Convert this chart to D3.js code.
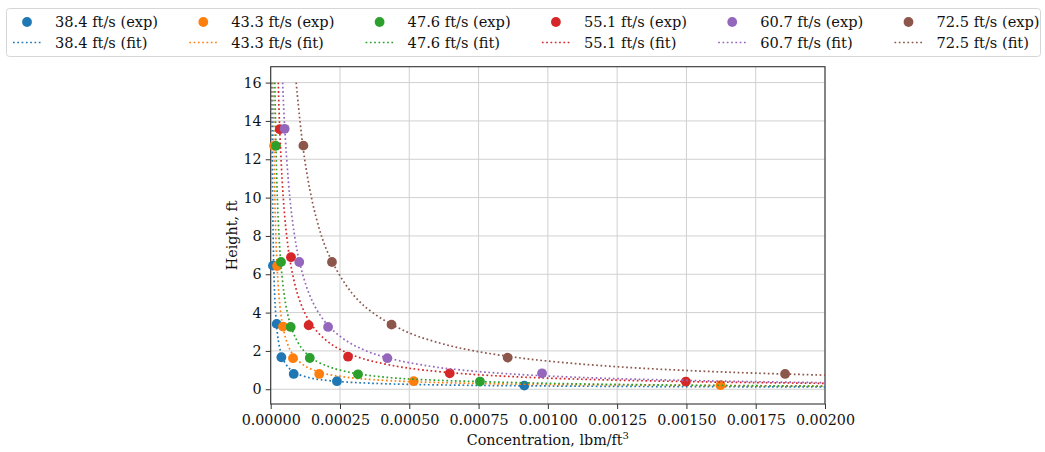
<!DOCTYPE html>
<html>
<head>
<meta charset="utf-8">
<script src="https://cdn.jsdelivr.net/npm/d3@7"></script>
<style>
  body { margin: 0; background: #fff; }
  text { font-family: "DejaVu Serif", serif; fill: #111; }
</style>
</head>
<body>
<svg id="canvas"></svg>
<script>
const series = ["38.4 ft/s", "43.3 ft/s", "47.6 ft/s", "55.1 ft/s", "60.7 ft/s", "72.5 ft/s"];
const COLOR_ARR = ["#1f77b4", "#ff7f0e", "#2ca02c", "#d62728", "#9467bd", "#8c564b"];

// measured points (concentration lbm/ft^3, height ft)
const expConc = [
    [0.000008, 0.0000216, 0.0000384, 0.000083, 0.000239, 0.000915],
    [0.000012, 0.000023, 0.0000444, 0.0000805, 0.000175, 0.000516, 0.001623],
    [0.0000191, 0.0000372, 0.0000722, 0.000141, 0.000315, 0.000755],
    [0.0000325, 0.0000732, 0.000137, 0.000279, 0.000646, 0.001498],
    [0.0000505, 0.000103, 0.000207, 0.000421, 0.000979],
    [0.000118, 0.000221, 0.000436, 0.000855, 0.001856]
];
const expHeight = [
    [6.45, 3.41, 1.67, 0.80, 0.42, 0.19],
    [12.7, 6.43, 3.27, 1.62, 0.80, 0.42, 0.21],
    [12.70, 6.64, 3.25, 1.63, 0.78, 0.40],
    [13.57, 6.89, 3.34, 1.70, 0.83, 0.40],
    [13.59, 6.64, 3.25, 1.62, 0.83],
    [12.71, 6.64, 3.37, 1.65, 0.80]
];

// fit curves
const fitConc = [
    [0.0000044, 0.0000058, 0.0000078, 0.0000108, 0.000014, 0.0000178, 0.000022, 0.000028, 0.000035, 0.000044, 0.00006, 0.000074, 0.000096, 0.00014, 0.00018, 0.00025, 0.00035, 0.00048, 0.00075, 0.001, 0.0014, 0.002],
    [0.0000094, 0.0000118, 0.000015, 0.0000185, 0.000023, 0.0000292, 0.000036, 0.000045, 0.0000575, 0.000072, 0.000091, 0.000125, 0.000155, 0.0002, 0.00029, 0.00037, 0.0005, 0.00069, 0.00092, 0.0013, 0.0016, 0.002],
    [0.000015, 0.0000189, 0.000024, 0.00003, 0.0000364, 0.000048, 0.00006, 0.000075, 0.000096, 0.00012, 0.00015, 0.000205, 0.00025, 0.000315, 0.000435, 0.00055, 0.00075, 0.00103, 0.00132, 0.0016, 0.002],
    [0.0000272, 0.0000325, 0.0000453, 0.0000577, 0.0000723, 0.0000962, 0.0001226, 0.0001563, 0.0002044, 0.0002605, 0.000332, 0.000454, 0.0005535, 0.000705, 0.000884, 0.00106, 0.001229, 0.001498, 0.001732, 0.002],
    [0.0000431, 0.0000507, 0.000069, 0.0000863, 0.0001045, 0.000138, 0.0001725, 0.0002156, 0.000276, 0.000345, 0.000431, 0.000575, 0.00069, 0.0008625, 0.001062, 0.001255, 0.001533, 0.001769, 0.002],
    [0.0000919, 0.0001225, 0.0001633, 0.00021, 0.000294, 0.0003675, 0.00049, 0.0006125, 0.000735, 0.000919, 0.001131, 0.001336, 0.001547, 0.00175, 0.002]
];
const fitHeight = [
    [16, 12, 9, 6.5, 5, 4, 3.2, 2.5, 2, 1.6, 1.2, 1.0, 0.8, 0.6, 0.5, 0.4, 0.32, 0.26, 0.2, 0.17, 0.14, 0.12],
    [16, 12.7, 10, 8, 6.4, 5, 4, 3.2, 2.5, 2, 1.6, 1.2, 1.0, 0.8, 0.6, 0.5, 0.4, 0.32, 0.26, 0.22, 0.19, 0.155],
    [16, 12.7, 10, 8, 6.6, 5, 4, 3.2, 2.5, 2, 1.6, 1.2, 1.0, 0.8, 0.6, 0.5, 0.4, 0.3, 0.24, 0.2, 0.165],
    [16, 13.57, 10, 8, 6.5, 5, 4, 3.2, 2.5, 2, 1.6, 1.2, 1.0, 0.8, 0.65, 0.55, 0.48, 0.4, 0.35, 0.306],
    [16, 13.6, 10, 8, 6.6, 5, 4, 3.2, 2.5, 2, 1.6, 1.2, 1.0, 0.8, 0.65, 0.55, 0.45, 0.39, 0.345],
    [16, 12, 9, 7, 5, 4, 3, 2.4, 2, 1.6, 1.3, 1.1, 0.95, 0.84, 0.735]
];

const xTicks = [0, 0.00025, 0.0005, 0.00075, 0.001, 0.00125, 0.0015, 0.00175, 0.002];
const yTicks = [0, 2, 4, 6, 8, 10, 12, 14, 16];

const width = 1045;
const height = 452;
const plot = { left: 270.7, right: 825, top: 66.7, bottom: 404 };

const canvas = d3.select("#canvas")
    .attr("width", width)
    .attr("height", height);

const x = d3.scaleLinear().domain([0, 0.002]).range([plot.left, plot.right]);
const y = d3.scaleLinear().domain([-0.77, 16.83]).range([plot.bottom, plot.top]);

canvas.append("defs").append("clipPath")
    .attr("id", "plotclip")
    .append("rect")
    .attr("x", plot.left)
    .attr("y", plot.top)
    .attr("width", plot.right - plot.left)
    .attr("height", plot.bottom - plot.top);

// grid
const grid = canvas.append("g").attr("stroke", "#d0d0d0").attr("stroke-width", 1);
grid.selectAll(".gx")
    .data(xTicks)
    .enter()
    .append("line")
    .attr("x1", d => x(d)).attr("x2", d => x(d))
    .attr("y1", plot.top).attr("y2", plot.bottom);
grid.selectAll(".gy")
    .data(yTicks)
    .enter()
    .append("line")
    .attr("x1", plot.left).attr("x2", plot.right)
    .attr("y1", d => y(d)).attr("y2", d => y(d));

// axes
const xAxis = canvas.append("g")
    .attr("transform", "translate(0," + plot.bottom + ")")
    .call(d3.axisBottom(x).tickValues(xTicks).tickFormat(d3.format(".5f")).tickSizeInner(5).tickSizeOuter(0).tickPadding(6));
const yAxis = canvas.append("g")
    .attr("transform", "translate(" + plot.left + ",0)")
    .call(d3.axisLeft(y).tickValues(yTicks).tickSizeInner(5).tickSizeOuter(0).tickPadding(4));
[xAxis, yAxis].forEach(a => {
    a.selectAll("text").style("font-size", "14.3px").attr("fill", "#111");
    a.selectAll("line").attr("stroke", "#333");
    a.select(".domain").remove();
});

canvas.append("rect")
    .attr("x", plot.left)
    .attr("y", plot.top)
    .attr("width", plot.right - plot.left)
    .attr("height", plot.bottom - plot.top)
    .attr("fill", "none")
    .attr("stroke", "#333")
    .attr("stroke-width", 1.1);

// series
const lineGen = d3.line()
    .x(d => x(d[0]))
    .y(d => y(d[1]))
    .curve(d3.curveCatmullRom.alpha(0.5));

const marks = canvas.append("g");
series.forEach((name, i) => {
    const pts = expConc[i].map((c, j) => [c, expHeight[i][j]]);
    marks.append("g")
        .selectAll("circle")
        .data(pts)
        .enter()
        .append("circle")
        .attr("cx", d => x(d[0]))
        .attr("cy", d => y(d[1]))
        .attr("r", 4.9)
        .attr("fill", COLOR_ARR[i]);

    const fit = fitConc[i].map((c, j) => [c, fitHeight[i][j]]);
    marks.append("path")
        .datum(fit)
        .attr("clip-path", "url(#plotclip)")
        .attr("d", lineGen)
        .attr("fill", "none")
        .attr("stroke", COLOR_ARR[i])
        .attr("stroke-width", 1.7)
        .attr("stroke-dasharray", "1.7,2.6");
});

// axis labels
const xLabel = canvas.append("text")
    .attr("x", (plot.left + plot.right) / 2)
    .attr("y", 445)
    .attr("text-anchor", "middle")
    .style("font-size", "14.3px")
    .text("Concentration, lbm/ft");
xLabel.append("tspan")
    .attr("dy", -6)
    .style("font-size", "10px")
    .text("3");

canvas.append("text")
    .attr("transform", "translate(236.5," + (plot.top + plot.bottom) / 2 + ") rotate(-90)")
    .attr("text-anchor", "middle")
    .style("font-size", "14.3px")
    .text("Height, ft");

// legend
const legend = canvas.append("g");
legend.append("rect")
    .attr("x", 6.5)
    .attr("y", 8.5)
    .attr("width", 1034)
    .attr("height", 48)
    .attr("rx", 3)
    .attr("fill", "#fff")
    .attr("stroke", "#d6d6d6");

const colStep = 176.3;
series.forEach((name, i) => {
    const x0 = 13 + i * colStep;
    legend.append("circle")
        .attr("cx", x0 + 14)
        .attr("cy", 22)
        .attr("r", 4.9)
        .attr("fill", COLOR_ARR[i]);
    legend.append("text")
        .attr("x", x0 + 42)
        .attr("y", 27)
        .style("font-size", "14.6px")
        .text(name + " (exp)");
    legend.append("line")
        .attr("x1", x0)
        .attr("x2", x0 + 28)
        .attr("y1", 42.5)
        .attr("y2", 42.5)
        .attr("stroke", COLOR_ARR[i])
        .attr("stroke-width", 1.7)
        .attr("stroke-dasharray", "1.7,2.6");
    legend.append("text")
        .attr("x", x0 + 42)
        .attr("y", 47.5)
        .style("font-size", "14.6px")
        .text(name + " (fit)");
});
</script>
</body>
</html>
